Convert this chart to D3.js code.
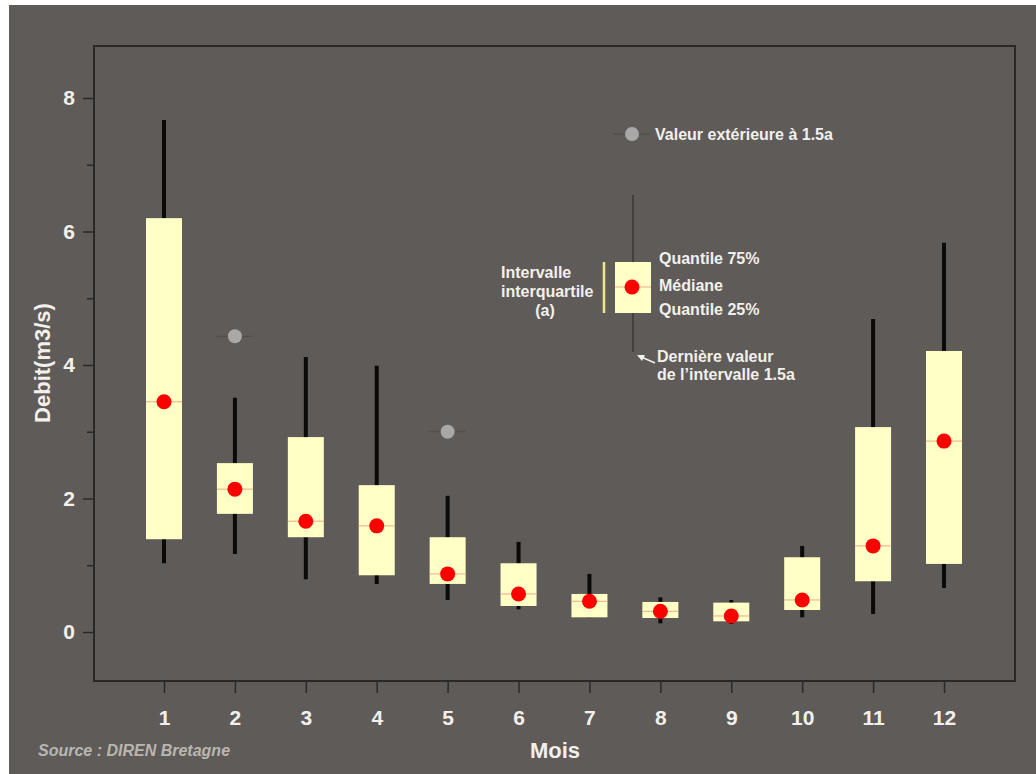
<!DOCTYPE html>
<html>
<head>
<meta charset="utf-8">
<script src="https://cdn.jsdelivr.net/npm/d3@7"></script>
<style>
  html, body { margin: 0; padding: 0; background: #ffffff; }
  svg { display: block; }
  text { font-family: "Liberation Sans", Arial, sans-serif; font-weight: bold; }
</style>
</head>
<body>
<script>
// Monthly flow distribution (m3/s)
const months      = [1, 2, 3, 4, 5, 6, 7, 8, 9, 10, 11, 12];
const whiskerLow  = [1.03, 1.17, 0.79, 0.72, 0.48, 0.34, 0.22, 0.13, 0.12, 0.22, 0.27, 0.66];
const q25         = [1.39, 1.77, 1.42, 0.85, 0.72, 0.39, 0.22, 0.21, 0.16, 0.33, 0.76, 1.02];
const medians     = [3.45, 2.14, 1.66, 1.59, 0.87, 0.57, 0.46, 0.31, 0.24, 0.48, 1.29, 2.86];
const q75         = [6.20, 2.53, 2.92, 2.20, 1.42, 1.03, 0.57, 0.45, 0.44, 1.12, 3.07, 4.21];
const whiskerHigh = [7.67, 3.51, 4.12, 3.99, 2.04, 1.35, 0.87, 0.52, 0.48, 1.29, 4.69, 5.83];
const outlierMonths = [2, 5];
const outlierValues = [4.43, 3.00];
const yTicks = [0, 2, 4, 6, 8];
const yMinorTicks = [1, 3, 5, 7];

const W = 1036, H = 774;
const frame = { left: 94, top: 46, right: 1015, bottom: 681 };

const svg = d3.select("body").append("svg")
  .attr("width", W).attr("height", H);

// page background
svg.append("rect").attr("x", 9).attr("y", 5).attr("width", W - 9).attr("height", H - 5)
  .attr("fill", "#5f5b58");

const x = d3.scalePoint().domain(months).range([164, 944]);
const y = d3.scaleLinear().domain([0, 8]).range([632, 98]);

// plot frame
svg.append("rect")
  .attr("x", frame.left).attr("y", frame.top)
  .attr("width", frame.right - frame.left).attr("height", frame.bottom - frame.top)
  .attr("fill", "none").attr("stroke", "#2b2927").attr("stroke-width", 2);

// y axis
const yAxis = svg.append("g").attr("transform", `translate(${frame.left},0)`)
  .call(d3.axisLeft(y).tickValues(yTicks).tickSize(11).tickPadding(8));
yAxis.select(".domain").remove();
yAxis.selectAll(".tick line").attr("stroke", "#2b2927").attr("stroke-width", 1.5);
yAxis.selectAll(".tick text").attr("fill", "#f2f0ec").attr("font-size", 21)
  .attr("font-family", "Liberation Sans, Arial, sans-serif").attr("font-weight", "bold");
const yMinor = svg.append("g").attr("transform", `translate(${frame.left},0)`)
  .call(d3.axisLeft(y).tickValues(yMinorTicks).tickSize(7).tickFormat(""));
yMinor.select(".domain").remove();
yMinor.selectAll(".tick line").attr("stroke", "#2b2927").attr("stroke-width", 1.5);

// x axis
const xAxis = svg.append("g").attr("transform", `translate(0,${frame.bottom})`)
  .call(d3.axisBottom(x).tickSize(12).tickPadding(17));
xAxis.select(".domain").remove();
xAxis.selectAll(".tick line").attr("stroke", "#2b2927").attr("stroke-width", 1.5);
xAxis.selectAll(".tick text").attr("fill", "#f2f0ec").attr("font-size", 21)
  .attr("font-family", "Liberation Sans, Arial, sans-serif").attr("font-weight", "bold");

// axis titles
svg.append("text").attr("x", 555).attr("y", 758).attr("text-anchor", "middle")
  .attr("fill", "#f2f0ec").attr("font-size", 22).text("Mois");
svg.append("text").attr("transform", "translate(50,363) rotate(-90)")
  .attr("text-anchor", "middle").attr("fill", "#f2f0ec").attr("font-size", 22)
  .text("Debit(m3/s)");
svg.append("text").attr("x", 38).attr("y", 756).attr("fill", "#b9b6b1")
  .attr("font-size", 16).attr("font-style", "italic").text("Source : DIREN Bretagne");

const boxW = 36;
const data = months.map((m, i) => ({
  m, lo: whiskerLow[i], q1: q25[i], med: medians[i], q3: q75[i], hi: whiskerHigh[i]
}));

const g = svg.append("g");
// whiskers
g.selectAll("line.whisker").data(data).join("line")
  .attr("x1", d => x(d.m)).attr("x2", d => x(d.m))
  .attr("y1", d => y(d.hi)).attr("y2", d => y(d.lo))
  .attr("stroke", "#0a0a0a").attr("stroke-width", 4);
// boxes
g.selectAll("rect.box").data(data).join("rect")
  .attr("x", d => x(d.m) - boxW / 2).attr("width", boxW)
  .attr("y", d => y(d.q3)).attr("height", d => Math.max(1, y(d.q1) - y(d.q3)))
  .attr("fill", "#ffffc6");
// median lines
g.selectAll("line.med").data(data).join("line")
  .attr("x1", d => x(d.m) - boxW / 2).attr("x2", d => x(d.m) + boxW / 2)
  .attr("y1", d => y(d.med)).attr("y2", d => y(d.med))
  .attr("stroke", "#eba98a").attr("stroke-width", 1);
// median dots
g.selectAll("circle.med").data(data).join("circle")
  .attr("cx", d => x(d.m)).attr("cy", d => y(d.med)).attr("r", 7.5)
  .attr("fill", "#ff0000");

// outliers
const outliers = outlierMonths.map((m, i) => ({ m, v: outlierValues[i] }));
g.selectAll("line.out").data(outliers).join("line")
  .attr("x1", d => x(d.m) - 18).attr("x2", d => x(d.m) + 18)
  .attr("y1", d => y(d.v)).attr("y2", d => y(d.v))
  .attr("stroke", "#4e4b48").attr("stroke-width", 1);
g.selectAll("circle.out").data(outliers).join("circle")
  .attr("cx", d => x(d.m)).attr("cy", d => y(d.v)).attr("r", 7)
  .attr("fill", "#aaa8a6");

// legend
const lg = svg.append("g");
const txt = (xp, yp, s, anchor = "start") => lg.append("text").attr("x", xp).attr("y", yp)
  .attr("fill", "#f2f0ec").attr("font-size", 16).attr("text-anchor", anchor).text(s);

lg.append("line").attr("x1", 614).attr("x2", 650).attr("y1", 134).attr("y2", 134)
  .attr("stroke", "#4e4b48").attr("stroke-width", 1);
lg.append("circle").attr("cx", 632).attr("cy", 134).attr("r", 7).attr("fill", "#aaa8a6");
txt(655, 140, "Valeur extérieure à 1.5a");

lg.append("line").attr("x1", 633).attr("x2", 633).attr("y1", 195).attr("y2", 352)
  .attr("stroke", "#3a3836").attr("stroke-width", 1.5);
lg.append("rect").attr("x", 615).attr("y", 262).attr("width", 36).attr("height", 51)
  .attr("fill", "#ffffc6");
lg.append("line").attr("x1", 615).attr("x2", 651).attr("y1", 287).attr("y2", 287)
  .attr("stroke", "#eba98a").attr("stroke-width", 1);
lg.append("circle").attr("cx", 632).attr("cy", 287).attr("r", 7.5).attr("fill", "#ff0000");
lg.append("line").attr("x1", 604).attr("x2", 604).attr("y1", 262).attr("y2", 313)
  .attr("stroke", "#ece88a").attr("stroke-width", 2.5);

txt(659, 264, "Quantile 75%");
txt(659, 291, "Médiane");
txt(659, 315, "Quantile 25%");
txt(501, 278, "Intervalle");
txt(501, 297, "interquartile");
txt(545, 316, "(a)", "middle");

// arrow to the last whisker value
lg.append("line").attr("x1", 655).attr("x2", 639).attr("y1", 363).attr("y2", 356)
  .attr("stroke", "#f2f0ec").attr("stroke-width", 1.5);
lg.append("path").attr("d", "M637,355 L645,355 L642,361 Z").attr("fill", "#f2f0ec");
txt(657, 362, "Dernière valeur");
txt(657, 380, "de l\u2019intervalle 1.5a");
</script>
</body>
</html>
